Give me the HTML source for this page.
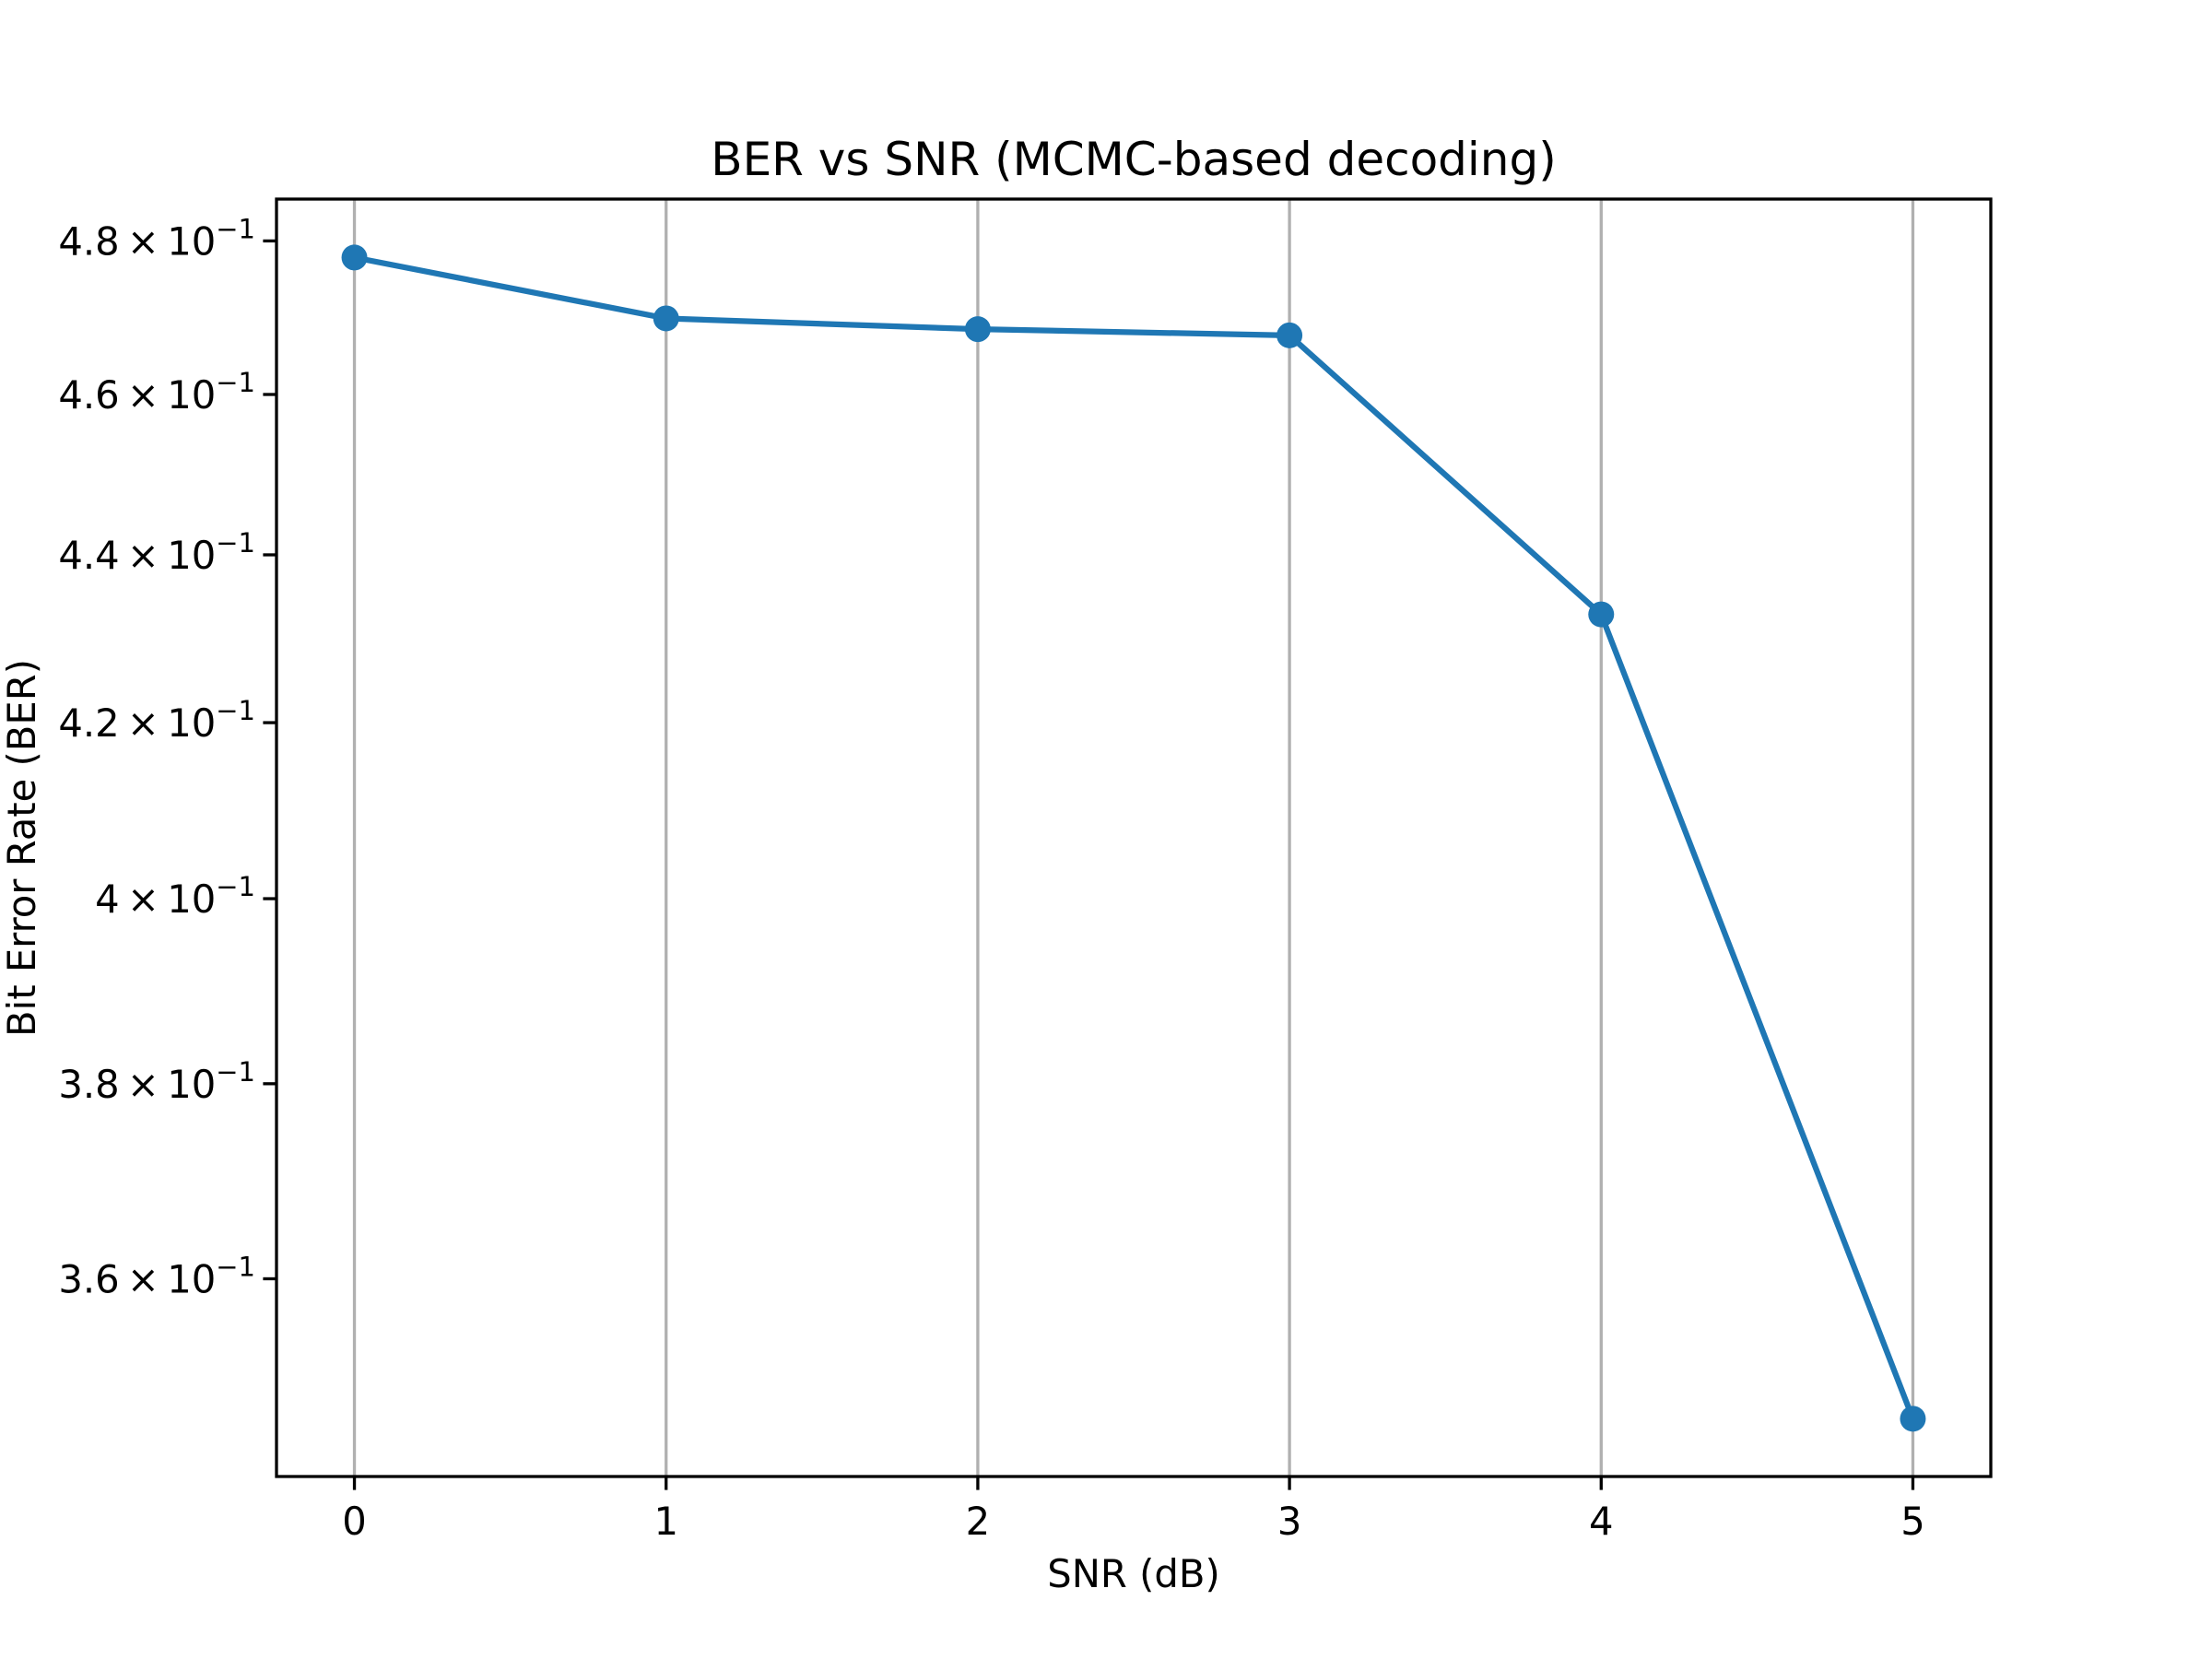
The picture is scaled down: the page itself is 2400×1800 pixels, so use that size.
<!DOCTYPE html>
<html><head><meta charset="utf-8"><style>html,body{margin:0;padding:0;background:#fff}svg{display:block}text{font-family:"DejaVu Sans","Liberation Sans",sans-serif;fill:#000}</style></head>
<body>
<svg id="chart" width="2400" height="1800" viewBox="0 0 2400 1800" xmlns="http://www.w3.org/2000/svg">
<rect width="2400" height="1800" fill="#fff"/>
<g id="grid"></g>
<g id="series"></g>
<rect x="300" y="216" width="1860" height="1386" fill="none" stroke="#000" stroke-width="3.3"/>
<g id="xticks"></g>
<g id="yticks"></g>
<text x="1230" y="190" font-size="50" text-anchor="middle">BER vs SNR (MCMC-based decoding)</text>
<text x="1230" y="1722" font-size="41.7" text-anchor="middle">SNR (dB)</text>
<text transform="translate(38,920) rotate(-90)" font-size="41.7" text-anchor="middle">Bit Error Rate (BER)</text>
</svg>
<script>
const snr = [0, 1, 2, 3, 4, 5];
const ber = [0.4778, 0.4698, 0.4684, 0.4676, 0.4328, 0.3463];
const yTickVals = [0.48, 0.46, 0.44, 0.42, 0.40, 0.38, 0.36];
const yTickMant = ['4.8', '4.6', '4.4', '4.2', '4', '3.8', '3.6'];
const xTickVals = [0, 1, 2, 3, 4, 5];

const NS = 'http://www.w3.org/2000/svg';
const L = 300, R = 2160, T = 216, B = 1602;
const xMin = -0.25, xMax = 5.25;
const yMin = 0.3408, yMax = 0.4856;
function xs(v){ return L + (v - xMin) / (xMax - xMin) * (R - L); }
function ys(v){ return B - (Math.log10(v) - Math.log10(yMin)) / (Math.log10(yMax) - Math.log10(yMin)) * (B - T); }
function mk(tag, attrs, parent){ const e = document.createElementNS(NS, tag); for (const k in attrs) e.setAttribute(k, attrs[k]); parent.appendChild(e); return e; }

const grid = document.getElementById('grid');
const xt = document.getElementById('xticks');
xTickVals.forEach(v => {
  const x = xs(v);
  const g = mk('line', {x1:x, x2:x, y1:T, y2:B, stroke:'#b0b0b0', 'stroke-width':3.3}, grid);
  
  
  const t = mk('line', {x1:x, x2:x, y1:B, y2:B+14.6, stroke:'#000', 'stroke-width':3.3}, xt);
  
  
  const l = mk('text', {x:x, y:1665, 'font-size':41.7, 'text-anchor':'middle'}, xt);
  l.textContent = String(v);
  
  
});

const yt = document.getElementById('yticks');
yTickVals.forEach((v, i) => {
  const y = ys(v);
  const t = mk('line', {x1:L-14.6, x2:L, y1:y, y2:y, stroke:'#000', 'stroke-width':3.3}, yt);
  
  
  const l = mk('text', {x:277, y:y+15, 'font-size':41.7, 'text-anchor':'end'}, yt);
  
  
  const a = mk('tspan', {}, l); a.textContent = yTickMant[i] + '\u2009\u00d7\u200910';
  const b = mk('tspan', {dy:-18, 'font-size':29}, l); b.textContent = '\u22121';
});

const s = document.getElementById('series');
const pts = snr.map((v, i) => xs(v) + ',' + ys(ber[i])).join(' ');
const pl = mk('polyline', {points:pts, fill:'none', stroke:'#1f77b4', 'stroke-width':6.25, 'stroke-linejoin':'round', 'stroke-linecap':'square'}, s);


snr.forEach((v, i) => {
  const c = mk('circle', {cx:xs(v), cy:ys(ber[i]), r:14, fill:'#1f77b4'}, s);
  
  
});
</script>
</body></html>
